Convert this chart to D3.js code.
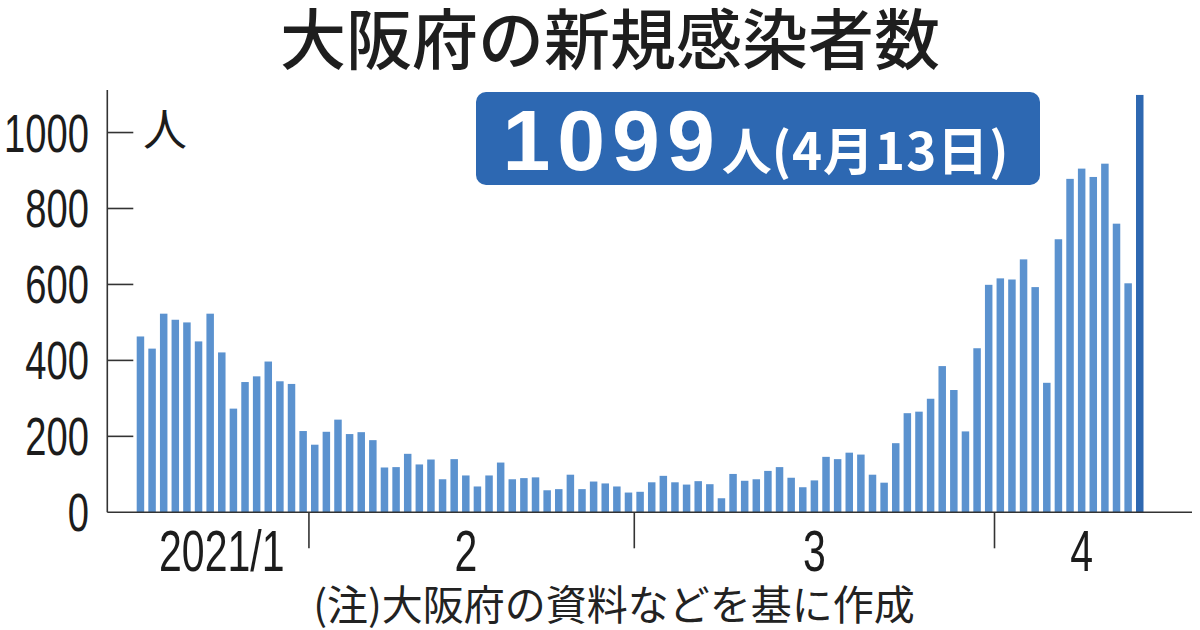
<!DOCTYPE html>
<html lang="ja">
<head>
  <meta charset="UTF-8">
  <title>大阪府の新規感染者数</title>
  <script src="https://d3js.org/d3.v7.min.js"></script>
</head>
<body>
</body>
<style>
  body {
    margin: 0;
    padding: 0;
    background: #fff;
  }

  text.jp {
    font-family: "Noto Sans CJK JP", sans-serif;
  }

  text.num {
    font-family: "Liberation Sans", Arial, sans-serif;
    fill: #1c1c1c;
  }
</style>
<script>
  const width = 1200
  const height = 630

  // daily new cases
  const janCases = [463, 431, 523, 507, 500, 450, 523, 421, 273, 343, 358, 397, 345, 338, 214] // 1/17 - 1/31
  const febCases = [178, 212, 244, 206, 211, 190, 118, 119, 154, 126, 139, 87, 140, 97,
    68, 97, 131, 87, 90, 92, 58, 61, 99, 61, 81, 76, 68, 52]
  const marCases = [54, 79, 96, 79, 73, 82, 74, 37, 101, 83, 87, 109, 119, 91, 66, 84,
    146, 140, 157, 152, 99, 78, 182, 261, 265, 299, 385, 322, 213, 432, 599]
  const aprCases = [616, 613, 666, 593, 341, 719, 878, 905, 883, 918, 760, 603, 1099] // 4/1 - 4/13

  const months = [1, 2, 3, 4]
  const firstDays = [17, 1, 1, 1]
  const monthLabels = ['2021/1', '2', '3', '4']
  const labelDays = ['1/24', '2/14', '3/16', '4/8']
  const yTicks = [0, 200, 400, 600, 800, 1000]

  const title = '大阪府の新規感染者数'
  const calloutValue = '1099'
  const calloutUnit = '人'
  const calloutDate = '(4月13日)'
  const note = '(注)大阪府の資料などを基に作成'

  const data = []
  ;[janCases, febCases, marCases, aprCases].forEach((arr, mi) => {
    arr.forEach((v, i) => data.push({ day: `${months[mi]}/${firstDays[mi] + i}`, month: months[mi], value: v }))
  })
  const lastDay = data[data.length - 1].day

  const svg = d3.select('body').append('svg')
    .attr('width', width)
    .attr('height', height)
    .style('display', 'block')

  const x = d3.scaleBand()
    .domain(data.map(d => d.day))
    .range([136.7, 1143.5])
    .paddingInner(0.355)
    .paddingOuter(0)

  const y = d3.scaleLinear()
    .domain([0, 1112])
    .range([512.3, 90])

  const axisX = 107.3
  const narrow = 0.72

  // bars
  svg.append('g')
    .selectAll('rect')
    .data(data)
    .join('rect')
    .attr('x', d => x(d.day))
    .attr('y', d => y(d.value))
    .attr('width', x.bandwidth())
    .attr('height', d => y(0) - y(d.value))
    .attr('fill', d => d.day === lastDay ? '#2e68b1' : '#5b92cf')

  // y axis
  svg.append('line')
    .attr('x1', axisX).attr('x2', axisX)
    .attr('y1', y.range()[1]).attr('y2', y(0))
    .attr('stroke', '#333').attr('stroke-width', 1.6)

  svg.append('g')
    .selectAll('line')
    .data(yTicks.filter(t => t > 0))
    .join('line')
    .attr('x1', axisX).attr('x2', axisX + 26)
    .attr('y1', d => y(d)).attr('y2', d => y(d))
    .attr('stroke', '#333').attr('stroke-width', 1.6)

  svg.append('g')
    .selectAll('text')
    .data(yTicks)
    .join('text')
    .attr('class', 'num')
    .attr('text-anchor', 'end')
    .attr('font-size', 53)
    .attr('transform', d => `translate(89,${y(d) + 19}) scale(${narrow},1)`)
    .text(d => d)

  svg.append('text')
    .attr('class', 'jp')
    .attr('x', 143)
    .attr('y', 146)
    .attr('font-size', 44)
    .attr('fill', '#1c1c1c')
    .text(calloutUnit)

  // x axis
  svg.append('line')
    .attr('x1', axisX).attr('x2', 1192)
    .attr('y1', y(0)).attr('y2', y(0))
    .attr('stroke', '#333').attr('stroke-width', 1.6)

  const gap = x.step() * x.paddingInner()
  const monthStarts = data.filter((d, i) => i > 0 && d.month !== data[i - 1].month)
  svg.append('g')
    .selectAll('line')
    .data(monthStarts)
    .join('line')
    .attr('x1', d => x(d.day) - gap / 2).attr('x2', d => x(d.day) - gap / 2)
    .attr('y1', y(0)).attr('y2', y(0) + 36)
    .attr('stroke', '#333').attr('stroke-width', 1.6)

  svg.append('g')
    .selectAll('text')
    .data(monthLabels)
    .join('text')
    .attr('class', 'num')
    .attr('text-anchor', 'middle')
    .attr('font-size', 57)
    .attr('transform', (d, i) => `translate(${x(labelDays[i]) + x.bandwidth() / 2},571) scale(${narrow},1)`)
    .text(d => d)

  // title
  svg.append('text')
    .attr('class', 'jp')
    .attr('x', 610)
    .attr('y', 64)
    .attr('text-anchor', 'middle')
    .attr('font-size', 66)
    .attr('font-weight', 500)
    .attr('fill', '#1e1e1e')
    .text(title)

  // callout box
  svg.append('rect')
    .attr('x', 476).attr('y', 92)
    .attr('width', 564).attr('height', 93)
    .attr('rx', 10)
    .attr('fill', '#2d68b2')

  const callout = svg.append('text')
    .attr('x', 756)
    .attr('y', 170)
    .attr('text-anchor', 'middle')
    .attr('fill', '#fff')
  callout.append('tspan')
    .style('font-family', '"Liberation Sans", Arial, sans-serif')
    .attr('font-size', 86)
    .attr('font-weight', 700)
    .attr('letter-spacing', 7)
    .text(calloutValue)
  callout.append('tspan')
    .style('font-family', '"Noto Sans CJK JP", sans-serif')
    .attr('font-size', 50)
    .attr('font-weight', 700)
    .text(calloutUnit)
  callout.append('tspan')
    .style('font-family', '"Noto Sans CJK JP", sans-serif')
    .attr('font-size', 51)
    .attr('font-weight', 700)
    .attr('letter-spacing', 1)
    .text(calloutDate)

  // note
  svg.append('text')
    .attr('class', 'jp')
    .attr('x', 614)
    .attr('y', 620)
    .attr('text-anchor', 'middle')
    .attr('font-size', 41)
    .attr('fill', '#222')
    .text(note)
</script>
</html>
